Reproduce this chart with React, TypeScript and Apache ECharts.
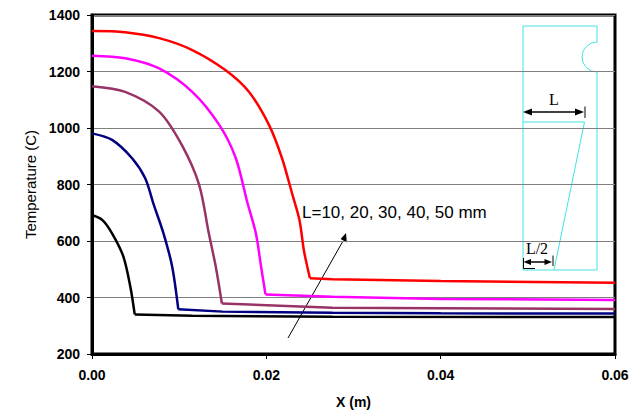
import * as echarts from "echarts";
import { useEffect, useRef } from "react";

// temperature profiles along X (m) for each notch length L
const red50: [number, number][] = [
  [0, 1343], [0.0038, 1339], [0.0077, 1318], [0.0115, 1276], [0.0153, 1205],
  [0.018, 1128], [0.0203, 1011], [0.0218, 893], [0.023, 763], [0.0238, 674],
  [0.0243, 568], [0.0247, 509], [0.025, 468], [0.0276, 465], [0.04, 458], [0.06, 452],
];
const magenta40: [number, number][] = [
  [0, 1256], [0.0038, 1247], [0.0077, 1211], [0.0115, 1128], [0.0146, 1011],
  [0.0165, 893], [0.0178, 739], [0.0188, 627], [0.0194, 509], [0.0199, 411],
  [0.0276, 403], [0.04, 395], [0.06, 391],
];
const plum30: [number, number][] = [
  [0, 1148], [0.0038, 1128], [0.0077, 1058], [0.0103, 940], [0.0123, 798],
  [0.0134, 627], [0.0142, 509], [0.0149, 379], [0.0276, 364], [0.04, 362], [0.06, 359],
];
const navy20: [number, number][] = [
  [0, 981], [0.0023, 958], [0.0046, 893], [0.0061, 822], [0.0071, 727],
  [0.0082, 627], [0.0092, 509], [0.0099, 358], [0.015, 350], [0.0276, 346],
  [0.04, 344], [0.06, 343],
];
const black10: [number, number][] = [
  [0, 692], [0.0012, 674], [0.0023, 627], [0.0036, 545], [0.0044, 438],
  [0.0049, 340], [0.0115, 335], [0.0276, 332], [0.06, 331],
];

// x where each curve stops falling and turns flat
const knees = [0.025, 0.0199, 0.0149, 0.0099, 0.0049];

const seriesList = [
  { name: "L=50", data: red50, color: "#ff0000" },
  { name: "L=40", data: magenta40, color: "#ff00ff" },
  { name: "L=30", data: plum30, color: "#993366" },
  { name: "L=20", data: navy20, color: "#000080" },
  { name: "L=10", data: black10, color: "#000000" },
];

const FONT = "Arial, 'Liberation Sans', sans-serif";
const SERIF = "'Times New Roman', 'Liberation Serif', serif";
const CYAN = "#40e4e4";

export default function App() {
  const ref = useRef<HTMLDivElement>(null);

  useEffect(() => {
    const chart = echarts.init(ref.current!, null, { renderer: "svg" });

    const series: any[] = [];
    seriesList.forEach((s, i) => {
      const knee = knees[i];
      const fall = s.data.filter((p) => p[0] <= knee);
      const flat = s.data.filter((p) => p[0] >= knee);
      const base = {
        type: "line",
        name: s.name,
        showSymbol: false,
        lineStyle: { color: s.color, width: 2.5 },
        itemStyle: { color: s.color },
      };
      series.push({ ...base, data: fall, smooth: 0.3 });
      series.push({ ...base, data: flat, smooth: false });
    });

    chart.setOption({
      animation: false,
      backgroundColor: "#fff",
      grid: {
        left: 92,
        right: 25,
        top: 15,
        bottom: 62,
        show: true,
        borderColor: "#000",
        borderWidth: 3,
        backgroundColor: "#fff",
      },
      xAxis: {
        type: "value",
        min: 0,
        max: 0.06,
        interval: 0.02,
        name: "X (m)",
        nameLocation: "middle",
        nameGap: 41,
        nameTextStyle: { fontFamily: FONT, fontWeight: "bold", fontSize: 14, color: "#000" },
        axisLine: { lineStyle: { color: "#000", width: 3 } },
        axisTick: { show: true, length: 5, lineStyle: { color: "#000", width: 1 } },
        axisLabel: {
          margin: 14,
          fontFamily: FONT,
          fontWeight: "bold",
          fontSize: 14,
          color: "#000",
          formatter: (v: number) => v.toFixed(2),
        },
        splitLine: { show: false },
      },
      yAxis: {
        type: "value",
        min: 200,
        max: 1400,
        interval: 200,
        name: "Temperature (C)",
        nameLocation: "middle",
        nameGap: 53,
        nameTextStyle: { fontFamily: FONT, fontSize: 15, color: "#000" },
        axisLine: { show: true, lineStyle: { color: "#000", width: 3 } },
        axisTick: { show: true, length: 5, lineStyle: { color: "#000", width: 1 } },
        axisLabel: {
          margin: 12,
          fontFamily: FONT,
          fontWeight: "bold",
          fontSize: 14,
          color: "#000",
          formatter: (v: number) => String(v),
        },
        splitLine: { show: true, lineStyle: { color: "#808080", width: 1.2 } },
      },
      series,
      graphic: {
        elements: [
          // arrow across the curves
          { type: "line", shape: { x1: 288, y1: 338, x2: 343, y2: 241 }, style: { stroke: "#000", lineWidth: 1 } },
          {
            type: "polygon",
            shape: { points: [[346, 233], [346.8, 242.6], [340.6, 239.1]] },
            style: { fill: "#000" },
          },
          {
            type: "text",
            x: 302,
            y: 212,
            style: { text: "L=10, 20, 30, 40, 50 mm", fontFamily: FONT, fontSize: 17, fill: "#000", verticalAlign: "middle" },
          },
          // inset sketch
          { type: "rect", shape: { x: 523, y: 26, width: 74, height: 244 }, style: { fill: "#fff", stroke: CYAN, lineWidth: 1 } },
          { type: "circle", shape: { cx: 597, cy: 57, r: 15 }, style: { fill: "#fff" } },
          {
            type: "arc",
            shape: { cx: 597, cy: 57, r: 15, startAngle: Math.PI / 2, endAngle: (3 * Math.PI) / 2, clockwise: true },
            style: { stroke: CYAN, fill: "none", lineWidth: 1 },
          },
          { type: "line", shape: { x1: 523, y1: 122, x2: 584.5, y2: 122 }, style: { stroke: CYAN, lineWidth: 1 } },
          { type: "line", shape: { x1: 584.5, y1: 122, x2: 554, y2: 270 }, style: { stroke: CYAN, lineWidth: 1 } },
          // L dimension
          { type: "line", shape: { x1: 528, y1: 112, x2: 580, y2: 112 }, style: { stroke: "#000", lineWidth: 1.5 } },
          { type: "polygon", shape: { points: [[523, 112], [532, 108.5], [532, 115.5]] }, style: { fill: "#000" } },
          { type: "polygon", shape: { points: [[584, 112], [575, 108.5], [575, 115.5]] }, style: { fill: "#000" } },
          { type: "line", shape: { x1: 585, y1: 106.5, x2: 585, y2: 118 }, style: { stroke: "#000", lineWidth: 1 } },
          {
            type: "text",
            x: 554,
            y: 99,
            style: { text: "L", fontFamily: SERIF, fontSize: 16, fill: "#000", align: "center", verticalAlign: "middle" },
          },
          // L/2 dimension
          { type: "line", shape: { x1: 527, y1: 262, x2: 548, y2: 262 }, style: { stroke: "#000", lineWidth: 1.5 } },
          { type: "polygon", shape: { points: [[523.5, 262], [531, 259], [531, 265]] }, style: { fill: "#000" } },
          { type: "polygon", shape: { points: [[552, 262], [544.5, 259], [544.5, 265]] }, style: { fill: "#000" } },
          { type: "line", shape: { x1: 553, y1: 255.5, x2: 553, y2: 266 }, style: { stroke: "#000", lineWidth: 1 } },
          { type: "polyline", shape: { points: [[523.5, 258], [523.5, 268.5], [535, 268.5]] }, style: { stroke: "#000", lineWidth: 1, fill: "none" } },
          {
            type: "text",
            x: 537,
            y: 248,
            style: { text: "L/2", fontFamily: SERIF, fontSize: 16, fill: "#000", align: "center", verticalAlign: "middle" },
          },
        ],
      },
    });
    return () => chart.dispose();
  }, []);

  return (
    <div
      ref={ref}
      style={{ position: "fixed", left: 0, top: 0, width: 640, height: 416, background: "#fff" }}
    />
  );
}
